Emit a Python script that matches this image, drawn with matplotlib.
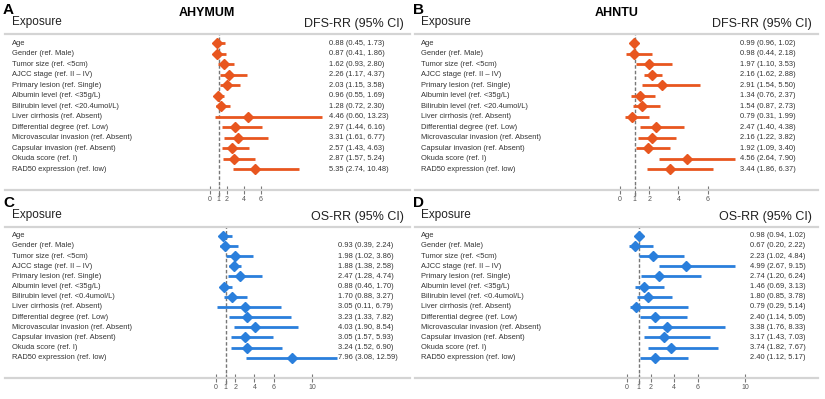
import matplotlib
matplotlib.use("Agg")
import matplotlib.pyplot as plt
from matplotlib.transforms import blended_transform_factory

plt.rcParams['font.family'] = ['Liberation Sans', 'DejaVu Sans']

W, H = 825, 399

labels_dfs = ["Age", "Gender (ref. Male)", "Tumor size (ref. <5cm)", "AJCC stage (ref. II – IV)",
              "Primary lesion (ref. Single)", "Albumin level (ref. <35g/L)",
              "Bilirubin level (ref. <20.4umol/L)", "Liver cirrhosis (ref. Absent)",
              "Differential degree (ref. Low)", "Microvascular invasion (ref. Absent)",
              "Capsular invasion (ref. Absent)", "Okuda score (ref. I)", "RAD50 expression (ref. low)"]
labels_os = labels_dfs[:6] + ["Bilirubin level (ref. <0.4umol/L)"] + labels_dfs[7:]

# A: DFS, AHYMUM
a_rr = [0.88, 0.87, 1.62, 2.26, 2.03, 0.96, 1.28, 4.46, 2.97, 3.31, 2.57, 2.87, 5.35]
a_lo = [0.45, 0.41, 0.93, 1.17, 1.15, 0.55, 0.72, 0.60, 1.44, 1.61, 1.43, 1.57, 2.74]
a_hi = [1.73, 1.86, 2.80, 4.37, 3.58, 1.69, 2.30, 13.23, 6.16, 6.77, 4.63, 5.24, 10.48]
# B: DFS, AHNTU
b_rr = [0.99, 0.98, 1.97, 2.16, 2.91, 1.34, 1.54, 0.79, 2.47, 2.16, 1.92, 4.56, 3.44]
b_lo = [0.96, 0.44, 1.10, 1.62, 1.54, 0.76, 0.87, 0.31, 1.40, 1.22, 1.09, 2.64, 1.86]
b_hi = [1.02, 2.18, 3.53, 2.88, 5.50, 2.37, 2.73, 1.99, 4.38, 3.82, 3.40, 7.90, 6.37]
# C: OS, AHYMUM (first row printed without numbers in the original)
c_rr = [0.75, 0.93, 1.98, 1.88, 2.47, 0.88, 1.70, 3.05, 3.23, 4.03, 3.05, 3.24, 7.96]
c_lo = [0.32, 0.39, 1.02, 1.38, 1.28, 0.46, 0.88, 0.11, 1.33, 1.90, 1.57, 1.52, 3.08]
c_hi = [1.70, 2.24, 3.86, 2.58, 4.74, 1.70, 3.27, 6.79, 7.82, 8.54, 5.93, 6.90, 12.59]
c_show = [False] + [True] * 12
# D: OS, AHNTU
d_rr = [0.98, 0.67, 2.23, 4.99, 2.74, 1.46, 1.80, 0.79, 2.40, 3.38, 3.17, 3.74, 2.40]
d_lo = [0.94, 0.20, 1.02, 2.67, 1.20, 0.69, 0.85, 0.29, 1.14, 1.76, 1.43, 1.82, 1.12]
d_hi = [1.02, 2.22, 4.84, 9.15, 6.24, 3.13, 3.78, 5.14, 5.05, 8.33, 7.03, 7.67, 5.17]

ticks_dfs = [0, 1, 2, 4, 6]
ticks_os = [0, 1, 2, 4, 6, 10]

ORANGE = '#e8561f'
BLUE = '#2a7fdc'

fig = plt.figure(figsize=(W / 100, H / 100), dpi=100)


def fx(x):
    return x / W


def fy(y):
    return 1 - y / H


def panel(letter, title, header, labels, rr, lo, hi, show, ticks, color,
          x0, x1, ytop, ybot, zero, scale, xlab, xnum):
    ax = fig.add_axes([fx(x0), fy(ybot), (x1 - x0) / W, (ybot - ytop) / H])
    ax.set_xlim((x0 - zero) / scale, (x1 - zero) / scale)
    ax.set_ylim(14, -0.87)
    n = len(rr)
    ys = list(range(n))
    ax.axvline(1, ymin=-0.04, ymax=1, color='#777777', ls=(0, (2.5, 1.5)), lw=1.0,
               clip_on=False, zorder=1)
    for i in ys:
        ax.plot([lo[i], hi[i]], [i, i], color=color, lw=2, solid_capstyle='butt', zorder=2)
    ax.plot(rr, ys, 'D', color=color, ms=5, zorder=3)
    for s in ['left', 'right']:
        ax.spines[s].set_visible(False)
    ax.spines['top'].set_color('#d4d4d4')
    ax.spines['top'].set_linewidth(1.6)
    ax.spines['bottom'].set_color('#d4d4d4')
    ax.spines['bottom'].set_linewidth(1.6)
    ax.set_yticks([])
    ax.set_xticks(ticks)
    ax.set_xticklabels([str(t) for t in ticks])
    ax.tick_params(axis='x', direction='inout', length=6, width=0.8, color='#777777',
                   labelsize=5, labelcolor='#555555', pad=1)
    tr = blended_transform_factory(fig.transFigure, ax.transData)
    for i in ys:
        ax.text(fx(xlab), i, labels[i], transform=tr, fontsize=5.4, color='#333333',
                va='center', ha='left')
        if show[i]:
            ax.text(fx(xnum), i, '%.2f (%.2f, %.2f)' % (rr[i], lo[i], hi[i]), transform=tr,
                    fontsize=5.4, color='#333333', va='center', ha='left')
    fig.text(fx(x0 - 2), fy(ytop - 24), letter, fontsize=11, fontweight='bold', va='center')
    fig.text(fx(xlab), fy(ytop - 12), 'Exposure', fontsize=8.5, color='#222222', va='center')
    fig.text(fx(x1 - 6), fy(ytop - 10), header, fontsize=9, color='#222222',
             va='center', ha='right')
    if title:
        fig.text(fx(x0 + 202), fy(ytop - 21), title, fontsize=9, fontweight='bold',
                 va='center', ha='center')
    return ax


panel('A', 'AHYMUM', 'DFS-RR (95% CI)', labels_dfs, a_rr, a_lo, a_hi, [True] * 13,
      ticks_dfs, ORANGE, 5, 410, 34, 190, 210, 8.5, 12, 329)
panel('B', 'AHNTU', 'DFS-RR (95% CI)', labels_dfs, b_rr, b_lo, b_hi, [True] * 13,
      ticks_dfs, ORANGE, 415, 818, 34, 190, 620, 14.6, 421, 740)
panel('C', None, 'OS-RR (95% CI)', labels_os, c_rr, c_lo, c_hi, c_show,
      ticks_os, BLUE, 5, 410, 227, 378, 216, 9.6, 12, 338)
panel('D', None, 'OS-RR (95% CI)', labels_os, d_rr, d_lo, d_hi, [True] * 13,
      ticks_os, BLUE, 415, 818, 227, 378, 627, 11.8, 421, 750)

fig.savefig('out.png', dpi=100)
